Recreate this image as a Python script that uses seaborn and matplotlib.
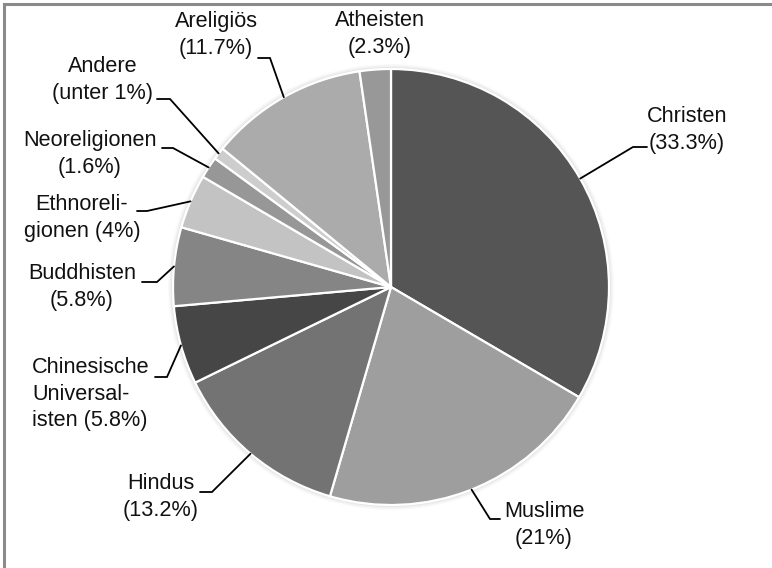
import matplotlib
matplotlib.use("Agg")
import matplotlib.pyplot as plt
from matplotlib.patches import Circle
import numpy as np
import seaborn as sns

# Weltreligionen – Anteile an der Weltbevölkerung
religions = ["Christen", "Muslime", "Hindus", "Chinesische Universalisten",
             "Buddhisten", "Ethnoreligionen", "Neoreligionen", "Andere",
             "Areligiös", "Atheisten"]
shares = [33.3, 21.0, 13.2, 5.8, 5.8, 4.0, 1.6, 0.9, 11.7, 2.3]
labels = ["Christen\n(33.3%)", "Muslime\n(21%)", "Hindus\n(13.2%)",
          "Chinesische\nUniversal-\nisten (5.8%)", "Buddhisten\n(5.8%)",
          "Ethnoreli-\ngionen (4%)", "Neoreligionen\n(1.6%)",
          "Andere\n(unter 1%)", "Areligiös\n(11.7%)", "Atheisten\n(2.3%)"]
greys = ["#555555", "#9e9e9e", "#737373", "#464646", "#858585",
         "#c3c3c3", "#979797", "#cdcdcd", "#ababab", "#989898"]

sns.set_theme(style="white")
plt.rcParams["font.family"] = ["Liberation Sans", "DejaVu Sans"]

W, H = 772, 568
fig = plt.figure(figsize=(W / 100, H / 100), dpi=100)
ax = fig.add_axes([0, 0, 1, 1])

# work in pixel-like units, y measured upward
cx, cy, R = 391.0, H - 287.0, 218.0

# soft halo behind the pie
for dr, a in [(5, 0.05), (3.5, 0.08), (2, 0.12)]:
    ax.add_patch(Circle((cx, cy), R + dr, color="#9a9a9a", alpha=a, lw=0, zorder=0))

wedges, _ = ax.pie(shares, colors=greys, startangle=90, counterclock=False,
                   center=(cx, cy), radius=R,
                   wedgeprops=dict(edgecolor="white", linewidth=1.6))
for w in wedges:
    w.set_zorder(2)

ax.set_xlim(0, W)
ax.set_ylim(0, H)
ax.set_aspect("auto")
ax.axis("off")

# label layout (pixel coords from the top-left): text centre, alignment,
# leader elbow and leader end
layout = [
    ((687, 130), "center", (633, 147), (647, 147)),
    ((544, 525), "center", (490, 519), (500, 519)),
    ((161, 497), "center", (212, 492), (200, 492)),
    ((32, 394), "left", (167, 377), (155, 377)),
    ((82, 287), "center", (157, 282), (142, 282)),
    ((82, 218), "center", (147, 211), (137, 211)),
    ((90, 154), "center", (173, 148), (162, 148)),
    ((103, 80), "center", (170, 99), (157, 99)),
    ((216, 35), "center", (270, 58), (258, 58)),
    ((380, 34), "center", None, None),
]

cum = np.cumsum([0] + shares) / sum(shares)
for i, (lab, (pos, ha, elbow, end)) in enumerate(zip(labels, layout)):
    tx, ty = pos
    ax.text(tx, H - ty, lab, ha=ha, va="center", multialignment=ha,
            fontsize=15.6, color="#111111", linespacing=1.34, zorder=5)
    if elbow is None:
        continue
    mid = (cum[i] + cum[i + 1]) / 2
    ang = np.deg2rad(90 - 360 * mid)
    sx, sy = cx + R * np.cos(ang), cy + R * np.sin(ang)
    ax.plot([sx, elbow[0], end[0]], [sy, H - elbow[1], H - end[1]],
            color="black", lw=1.3, solid_joinstyle="miter", zorder=4)

# chart frame (top and left edges visible)
ax.plot([3.5, 3.5, W], [0, H - 3.5, H - 3.5], color="#8a8a8a", lw=2.2,
        solid_joinstyle="miter", zorder=6)

fig.savefig("out.png", dpi=100, facecolor="white")
